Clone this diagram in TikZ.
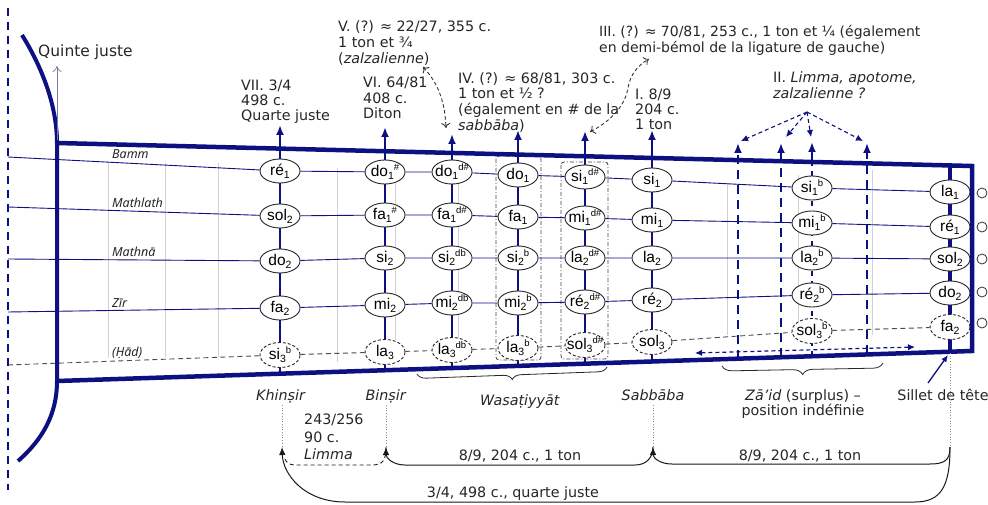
\documentclass[tikz,border=0pt]{standalone}
\usepackage{fontspec}
\setmainfont{DejaVu Sans}
\newfontfamily\notefont{Liberation Sans}
\newfontfamily\strfont{Noto Sans}
\usetikzlibrary{arrows.meta,shapes.geometric,decorations.pathreplacing,calc}
\definecolor{navy}{RGB}{12,16,128}
\definecolor{qgray}{RGB}{120,120,170}
\newcommand\nsb[1]{\raisebox{-3pt}{\fontsize{10.5}{11}\selectfont #1}}
\newcommand\nsp[1]{\raisebox{6pt}{\fontsize{9.5}{10}\selectfont #1}}
\newcommand\nt[5]{\node[#5] (#1) at (#2,#3) {\makebox[0pt]{#4}};}
\tikzset{
  note/.style={ellipse, draw=black!85, fill=white, line width=0.9pt, minimum width=40pt, minimum height=24pt, inner sep=0pt, font=\notefont\fontsize{15.5}{17}\selectfont},
  dnote/.style={note, dash pattern=on 3pt off 2pt, minimum height=25pt},
  fret/.style={draw=navy, line width=2.2pt},
  dfret/.style={draw=navy, line width=2.4pt, dash pattern=on 9pt off 6pt},
  strg/.style={draw=navy, line width=0.9pt},
  hline/.style={draw=black!70, line width=0.9pt, dash pattern=on 5pt off 3.5pt},
  gline/.style={draw=black!18, line width=0.6pt},
  lab/.style={font=\fontsize{14.3}{16}\selectfont, inner sep=0pt, align=left, anchor=north west, text=black!85},
  blab/.style={font=\fontsize{14.3}{16}\selectfont, inner sep=0pt, anchor=base, text=black!85},
  slab/.style={font=\strfont\itshape\fontsize{12.5}{14}\selectfont, inner sep=0pt, anchor=base west, text=black!85},
  arcl/.style={draw=black!90, line width=1pt},
  tipb/.style={-{Latex[length=8pt,width=6.5pt]}},
  tipn/.style={-{Latex[length=10pt,width=8pt]}},
  curvd/.style={draw=black!80, line width=0.9pt, dash pattern=on 3.5pt off 2.5pt, {To[length=5pt,width=9pt]}-{To[length=5pt,width=9pt]}},
  iid/.style={draw=navy, line width=1.1pt, dash pattern=on 4pt off 3pt, -{Latex[length=7pt,width=6.5pt]}},
}
\begin{document}
\begin{tikzpicture}[x=1pt,y=-1pt]
\useasboundingbox (0,0) rectangle (988,505);

% light grey fret guides
\foreach \gx/\ga/\gb in {108/163/358, 165/163/357, 218/163/357, 337/168/362, 395/165/340, 458/170/345, 727/183/335, 798/175/337, 872/170/335}
  \draw[gline] (\gx,\ga) -- (\gx,\gb);

% solid frets with arrows
\foreach \fx/\fb/\ft in {280/373.7/125, 385/370.2/127, 452/368.1/134, 518/365.9/130, 585/363.7/131, 652/361.5/130}
  \draw[fret,tipn] (\fx,\fb) -- (\fx,\ft);
\draw[dfret, line width=1.8pt, dash pattern=on 5pt off 5pt] (812,356.2) -- (812,162);
\draw[fret,tipn] (812,163) -- (812,142);
\draw[navy, line width=4pt] (950,165) -- (950,352);

% dash-dot boxes
\draw[black!75, line width=0.8pt, dash pattern=on 4pt off 2pt on 1pt off 2pt, rounded corners=3pt] (496,156) rectangle (541,360);
\draw[black!75, line width=0.8pt, dash pattern=on 4pt off 2pt on 1pt off 2pt, rounded corners=3pt] (561,162) rectangle (608,359);

% notes
\nt{b1}{280}{171}{ré\nsb{1}}{note}
\nt{m1}{280}{216}{sol\nsb{2}}{note}
\nt{n1}{280}{261}{do\nsb{2}}{note}
\nt{z1}{280}{308}{fa\nsb{2}}{note}
\nt{h1}{280}{355}{si\nsb{3}\nsp{b}}{dnote}
\nt{b2}{385}{172}{do\nsb{1}\nsp{\#}}{note}
\nt{m2}{385}{215}{fa\nsb{1}\nsp{\#}}{note}
\nt{n2}{385}{258}{si\nsb{2}}{note}
\nt{z2}{385}{305}{mi\nsb{2}}{note}
\nt{h2}{385}{352}{la\nsb{3}}{dnote}
\nt{b3}{452}{172}{do\nsb{1}\nsp{d\#}}{note}
\nt{m3}{452}{215}{fa\nsb{1}\nsp{d\#}}{note}
\nt{n3}{452}{258}{si\nsb{2}\nsp{db}}{note}
\nt{z3}{452}{303}{mi\nsb{2}\nsp{db}}{note}
\nt{h3}{452}{350}{la\nsb{3}\nsp{db}}{dnote}
\nt{b4}{518}{175}{do\nsb{1}}{note}
\nt{m4}{518}{217}{fa\nsb{1}}{note}
\nt{n4}{518}{258}{si\nsb{2}\nsp{b}}{note}
\nt{z4}{518}{303}{mi\nsb{2}\nsp{b}}{note}
\nt{h4}{518}{348}{la\nsb{3}\nsp{b}}{dnote}
\nt{b5}{585}{177}{si\nsb{1}\nsp{d\#}}{note}
\nt{m5}{585}{218}{mi\nsb{1}\nsp{d\#}}{note}
\nt{n5}{585}{258}{la\nsb{2}\nsp{d\#}}{note}
\nt{z5}{585}{302}{ré\nsb{2}\nsp{d\#}}{note}
\nt{h5}{585}{345}{sol\nsb{3}\nsp{d\#}}{dnote}
\nt{b6}{652}{180}{si\nsb{1}}{note}
\nt{m6}{652}{220}{mi\nsb{1}}{note}
\nt{n6}{652}{258}{la\nsb{2}}{note}
\nt{z6}{652}{300}{ré\nsb{2}}{note}
\nt{h6}{652}{342}{sol\nsb{3}}{dnote}
\nt{b7}{812}{188}{si\nsb{1}\nsp{b}}{note}
\nt{m7}{812}{223}{mi\nsb{1}\nsp{b}}{note}
\nt{n7}{812}{258}{la\nsb{2}\nsp{b}}{note}
\nt{z7}{812}{295}{ré\nsb{2}\nsp{b}}{note}
\nt{h7}{812}{331}{sol\nsb{3}\nsp{b}}{dnote}
\nt{b8}{950}{192}{la\nsb{1}}{note}
\nt{m8}{950}{227}{ré\nsb{1}}{note}
\nt{n8}{950}{259}{sol\nsb{2}}{note}
\nt{z8}{950}{293}{do\nsb{2}}{note}
\nt{h8}{950}{327}{fa\nsb{2}}{dnote}

% strings
\coordinate (lb) at (8,157);
\coordinate (lm) at (8,207);
\coordinate (ln) at (8,259);
\coordinate (lz) at (8,312);
\coordinate (lh) at (8,365);
\draw[strg] (lb) -- (b1) -- (b2) -- (b3) -- (b4) -- (b5) -- (b6) -- (b7) -- (b8);
\draw[strg] (lm) -- (m1) -- (m2) -- (m3) -- (m4) -- (m5) -- (m6) -- (m7) -- (m8);
\draw[strg] (ln) -- (n1) -- (n2) -- (n3) -- (n4) -- (n5) -- (n6) -- (n7) -- (n8);
\draw[strg] (lz) -- (z1) -- (z2) -- (z3) -- (z4) -- (z5) -- (z6) -- (z7) -- (z8);
\draw[hline] (lh) -- (h1) -- (h2) -- (h3) -- (h4) -- (h5) -- (h6) -- (h7) -- (h8);

% string names
\node[slab] (sbamm) at (112,159) {Bamm};
\node[slab] (smath) at (112,208) {Mathlath};
\node[slab] (smthn) at (112,257) {Mathnā};
\node[slab] (szir) at (112,307) {Zīr};
\node[slab] (shad) at (112,356) {(Ḥād)};

% dashed frets (zā'id)
\foreach \fx/\fb in {738/358.7, 781/357.3, 867/354.4}
  \draw[dfret,tipn] (\fx,\fb) -- (\fx,143);

% neck outline
\draw[navy, line width=4.5pt, line join=miter] (57,143) -- (972,166) -- (972,351) -- (57,381);
\draw[navy, line width=4pt] (22,35) .. controls (45,72) and (57,110) .. (57,143) -- (57,381) .. controls (57,415) and (42,440) .. (18,461);
\draw[navy, line width=2pt, dash pattern=on 8pt off 6pt] (8,8) -- (8,490);

% right circles
\foreach \i/\cy in {1/193, 2/227, 3/259, 4/292, 5/323}
  \node[circle, draw=black!80, line width=0.8pt, minimum size=10pt, inner sep=0pt] (o\i) at (982,\cy) {};

% double dashed arrow
\coordinate (dda) at (695,353);
\coordinate (ddb) at (915,347);
\draw[navy, line width=1.2pt, dash pattern=on 4pt off 3pt, {Latex[length=7pt,width=6.5pt]}-{Latex[length=7pt,width=6.5pt]}] (dda) -- (ddb);

% top labels
\node[font=\fontsize{15.5}{17}\selectfont, inner sep=0pt, anchor=base west, text=black!85] (quinte) at (38,57) {Quinte juste};
\coordinate (qa) at (57,140);
\coordinate (qb) at (57,66);
\draw[qgray, line width=0.7pt, -{To[length=6pt,width=9pt]}] (qa) -- (qb);
\node[lab, font=\fontsize{14.3}{15}\selectfont] (lvii) at (241,80) {VII. 3/4\\498 c.\\Quarte juste};
\node[lab, font=\fontsize{14.3}{15.5}\selectfont] (lvi) at (363,77) {VI. 64/81\\408 c.\\Diton};
\node[lab, font=\fontsize{14.3}{16}\selectfont] (lv) at (338,20) {V. (?) ≈ 22/27, 355 c.\\1 ton et ¾\\(\textit{zalzalienne})};
\node[lab, font=\fontsize{14.3}{15.7}\selectfont] (liv) at (458,72) {IV. (?) ≈ 68/81, 303 c.\\1 ton et ½ ?\\(également en \# de la\\\textit{sabbāba})};
\node[lab, font=\fontsize{14}{16}\selectfont] (liii) at (599,25) {III. (?) ≈ 70/81, 253 c., 1 ton et ¼ (également\\en demi-bémol de la ligature de gauche)};
\node[lab, font=\fontsize{14.3}{15}\selectfont] (li) at (635,89) {I. 8/9\\204 c.\\1 ton};
\node[lab, font=\fontsize{14.3}{16}\selectfont] (lii) at (773,71.5) {II. \textit{Limma, apotome,}\\\textit{zalzalienne ?}};

% dashed pointer curves
\coordinate (va) at (423,67);
\coordinate (vb) at (446,128);
\draw[curvd] (va) .. controls (440,85) and (445,105) .. (vb);
\coordinate (iiia) at (590,132);
\coordinate (iiib) at (649,59);
\draw[curvd] (iiia) .. controls (618,117) and (626,100) .. (628,88) .. controls (630,75) and (638,65) .. (iiib);
\coordinate (iio) at (807,112);
\coordinate (iit1) at (741,141);
\coordinate (iit2) at (786,137);
\coordinate (iit3) at (811,137);
\coordinate (iit4) at (863,141);
\draw[iid] (iio) -- (iit1);
\draw[iid] (iio) -- (iit2);
\draw[iid] (iio) -- (iit3);
\draw[iid] (iio) -- (iit4);

% braces
\draw[black!85, line width=0.8pt, decorate, decoration={brace, amplitude=9pt, mirror}] (417,374) -- (607,367);
\draw[black!85, line width=0.8pt, decorate, decoration={brace, amplitude=10pt, mirror}] (722,366) -- (883,363);

% bottom labels
\node[blab] (lkh) at (281,400) {\textit{Khinṣir}};
\node[blab] (lbi) at (386,400) {\textit{Binṣir}};
\node[blab] (lwa) at (520,405) {\textit{Wasaṭiyyāt}};
\node[blab] (lsa) at (653,400) {\textit{Sabbāba}};
\node[font=\fontsize{14.3}{15.5}\selectfont, inner sep=0pt, anchor=north, align=center, text=black!85] (lza) at (803,389) {\textit{Zā’id} (surplus) –\\position indéfinie};
\node[blab] (lsi) at (943,400) {Sillet de tête};
\coordinate (sia) at (928,383);
\coordinate (sib) at (948,355);
\draw[navy, line width=1.3pt, -{Latex[length=7pt,width=6pt]}] (sia) -- (sib);

% interval arcs
\coordinate (kh) at (282,447);
\coordinate (bi) at (386,447);
\coordinate (sa) at (653,447);
\coordinate (sl) at (950,447);
\coordinate (khd) at (282,405);
\coordinate (bid) at (386,405);
\coordinate (sad) at (653,405);
\coordinate (sld) at (950,353);
\draw[black!45, line width=0.7pt, dotted] (khd) -- (kh);
\draw[black!45, line width=0.7pt, dotted] (bid) -- (bi);
\draw[black!45, line width=0.7pt, dotted] (sad) -- (sa);
\draw[black!45, line width=0.7pt, dotted] (sld) -- (sl);

\draw[arcl,tipb] (sl) .. controls (950,460) and (945,464) .. (930,464) -- (672,464) .. controls (660,464) and (653,458) .. (sa);
\draw[arcl,tipb] (sa) .. controls (653,458) and (646,465) .. (635,465) -- (405,465) .. controls (393,465) and (386,458) .. (bi);
\draw[arcl,tipb] (sl) .. controls (950,485) and (942,502) .. (915,502) -- (345,502) .. controls (305,502) and (283,475) .. (kh);
\draw[arcl, line width=0.9pt, dash pattern=on 4pt off 3pt] (bi) .. controls (386,460) and (383,465) .. (372,465) -- (295,465) .. controls (289,465) and (286,462) .. (285,459);

\node[lab, font=\fontsize{14.3}{17.5}\selectfont] (llim) at (304,414) {243/256\\90 c.\\\textit{Limma}};
\node[blab] (lt1) at (520,460) {8/9, 204 c., 1 ton};
\node[blab] (lt2) at (800,460) {8/9, 204 c., 1 ton};
\node[blab] (lq) at (513,497) {3/4, 498 c., quarte juste};
\end{tikzpicture}
\end{document}
